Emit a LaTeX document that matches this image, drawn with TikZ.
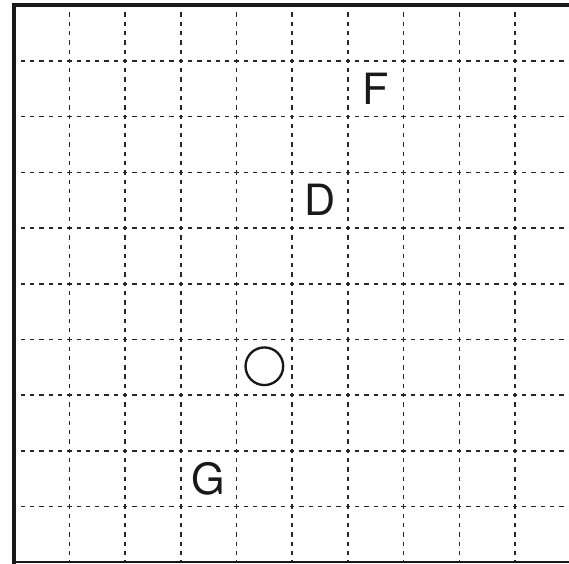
\documentclass[tikz,border=0pt]{standalone}
\usepackage{fontspec}
\setmainfont{TeX Gyre Heros}
\begin{document}
\begin{tikzpicture}[x=1cm,y=1cm,
  gridline/.style={line width=0.8pt, dash pattern=on 2.2pt off 2.542pt, dash phase=1.1pt, black!85},
  thickborder/.style={line width=2pt, black!90, line cap=rect},
  thinborder/.style={line width=1pt, black!90},
  letter/.style={font=\fontsize{22}{26}\selectfont, inner sep=0pt, text=black!90},
  ring/.style={circle, draw=black!90, line width=1.2pt, minimum size=0.676cm, inner sep=0pt}]
\useasboundingbox (-0.246,-0.013) rectangle (9.969,10.095);
\begin{scope}
\clip (-0.246,-0.013) rectangle (9.969,10.095);
\foreach \i in {1,...,9} {
  \draw[gridline] (\i,10) -- (\i,0);
  \draw[gridline] (0,\i) -- (10,\i);
}
\coordinate (tl) at (0,10);
\coordinate (bl) at (0,0);
\coordinate (tr) at (10.2,10);
\coordinate (br) at (10.2,0);
\draw[thinborder] (bl) -- (br);
\draw[thickborder] (bl) -- (tl) -- (tr);
\end{scope}
\node[letter] (F) at (6.5,8.5) {F};
\node[letter] (D) at (5.5,6.5) {D};
\node[letter] (G) at (3.5,1.5) {G};
\node[ring] (O) at (4.5,3.52) {};
\end{tikzpicture}
\end{document}
